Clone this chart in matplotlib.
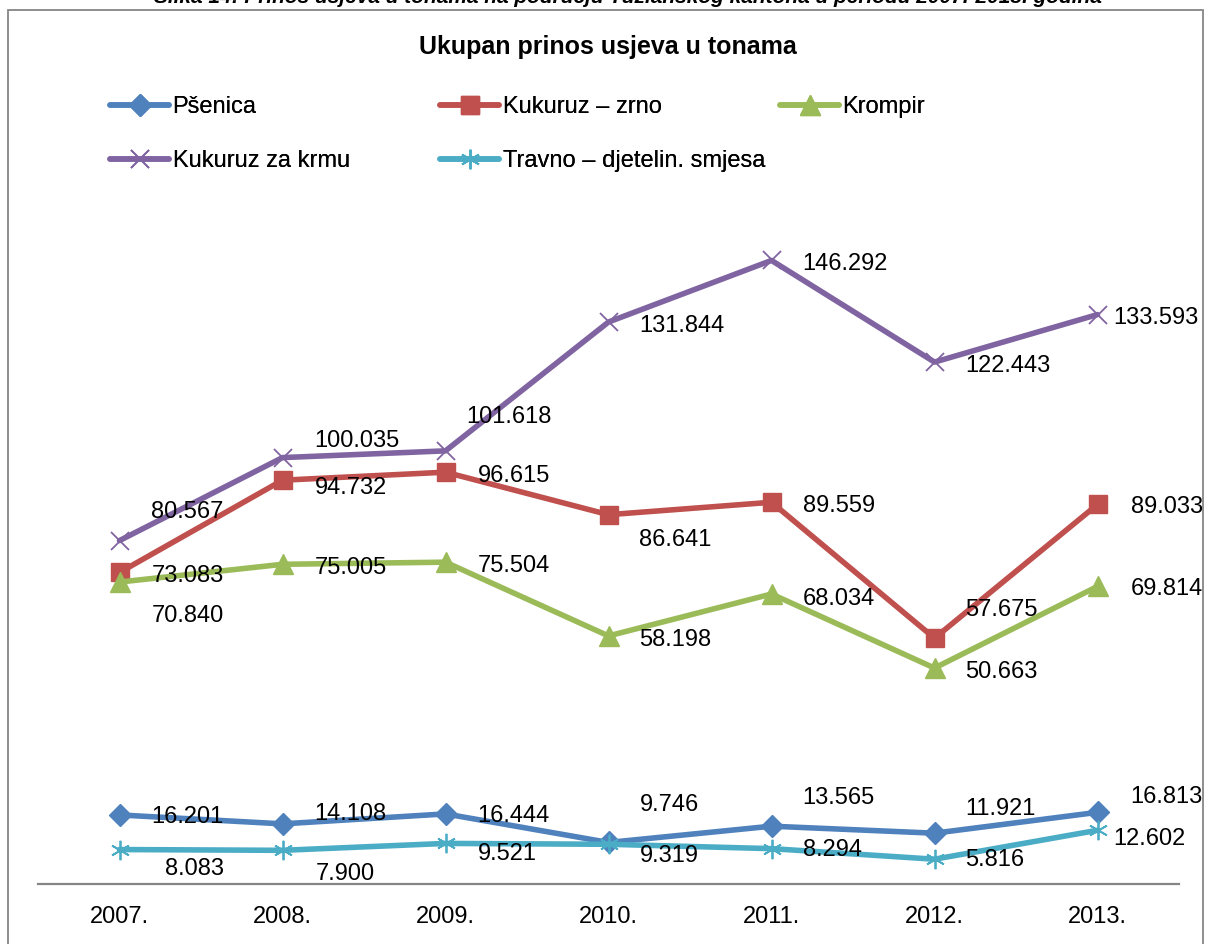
import numpy as np
import matplotlib
matplotlib.use('Agg')
import matplotlib.pyplot as plt
from matplotlib.patches import Rectangle

plt.rcParams['font.family'] = ['Liberation Sans', 'DejaVu Sans']

# podaci
godine = ['2007.', '2008.', '2009.', '2010.', '2011.', '2012.', '2013.']
psenica = [16.201, 14.108, 16.444, 9.746, 13.565, 11.921, 16.813]
kukuruz_zrno = [73.083, 94.732, 96.615, 86.641, 89.559, 57.675, 89.033]
krompir = [70.840, 75.005, 75.504, 58.198, 68.034, 50.663, 69.814]
kukuruz_krma = [80.567, 100.035, 101.618, 131.844, 146.292, 122.443, 133.593]
travno = [8.083, 7.900, 9.521, 9.319, 8.294, 5.816, 12.602]

# pomaci natpisa (pikseli: desno, dolje)
off_psenica = [(32, 2), (32, -10), (32, 2), (31, -37), (31, -28), (31, -24), (33, -15)]
off_zrno = [(32, 4), (32, 8), (32, 4), (31, 25), (31, 4), (31, -28), (33, 3)]
off_krompir = [(32, 34), (32, 4), (32, 4), (31, 4), (31, 5), (31, 4), (33, 3)]
off_krma = [(32, -29), (32, -17), (21, -34), (31, 4), (31, 4), (31, 4), (16, 3)]
off_travno = [(45, 19), (33, 24), (32, 11), (31, 12), (31, 1), (31, 1), (16, 9)]

W, H = 1208, 944
fig = plt.figure(figsize=(W / 100, H / 100), dpi=100)
ax = fig.add_axes([38 / W, 1 - 884 / H, (1179 - 38) / W, (884 - 202) / H])

x = np.arange(len(godine))
serije = [
    ('Pšenica', psenica, '#4F81BD', dict(marker='D', markersize=11.5), off_psenica),
    ('Kukuruz – zrno', kukuruz_zrno, '#C0504D', dict(marker='s', markersize=13), off_zrno),
    ('Krompir', krompir, '#9BBB59', dict(marker='^', markersize=14), off_krompir),
    ('Kukuruz za krmu', kukuruz_krma, '#8064A2',
     dict(marker='x', markersize=13, markeredgewidth=1.3), off_krma),
    ('Travno – djetelin. smjesa', travno, '#4BACC6',
     dict(marker=(6, 2, 0), markersize=14, markeredgewidth=1.3), off_travno),
]

linije = {}
for ime, y, boja, mk, off in serije:
    l, = ax.plot(x, y, color=boja, lw=4, label=ime, solid_capstyle='round',
                 solid_joinstyle='round', markerfacecolor=boja, markeredgecolor=boja,
                 clip_on=False, **mk)
    linije[ime] = l

for ime, y, boja, mk, off in serije:
    for xi, yi, (dx, dy) in zip(x, y, off):
        ax.annotate('%.3f' % yi, (xi, yi), xytext=(dx, -dy), textcoords='offset pixels',
                    ha='left', va='center', fontsize=17, color='black', zorder=5)

ax.set_xlim(-0.5, 6.5)
ax.set_ylim(0, 160)
ax.set_xticks(x)
ax.set_xticklabels(godine, fontsize=17)
ax.tick_params(axis='x', length=0, pad=16)
ax.set_yticks([])
for s in ['left', 'right', 'top']:
    ax.spines[s].set_visible(False)
ax.spines['bottom'].set_color('#868686')
ax.spines['bottom'].set_linewidth(1.6)

# naslov
fig.text(608 / W, 1 - 47 / H, 'Ukupan prinos usjeva u tonama', ha='center', va='center',
         fontsize=18, fontweight='bold')

# legenda (tri kolone)
kolone = [(110, ['Pšenica', 'Kukuruz za krmu']),
          (440, ['Kukuruz – zrno', 'Travno – djetelin. smjesa']),
          (780, ['Krompir'])]
for px, imena in kolone:
    leg = fig.legend([linije[i] for i in imena], imena, loc='upper left',
                     bbox_to_anchor=(px / W, 1 - 96 / H), frameon=False, fontsize=17,
                     borderpad=0, borderaxespad=0, handlelength=2.5, handletextpad=0.15,
                     labelspacing=1.35)
    fig.add_artist(leg)

# okvir grafikona
fig.add_artist(Rectangle((8 / W, -0.05), (1203 - 8) / W, 1 - 10 / H + 0.05,
                         transform=fig.transFigure, fill=False, edgecolor='#868686',
                         lw=1.3, clip_on=False))

# odsjeceni naslov slike (u originalu je odrezan gornjim rubom)
fig.text(628 / W, 1 - 3 / H,
         'Slika 14: Prinos usjeva u tonama na području Tuzlanskog kantona u periodu 2007.-2013. godina',
         ha='center', va='baseline', fontsize=15, fontweight='bold', fontstyle='italic')

fig.savefig('out.png', dpi=100)
